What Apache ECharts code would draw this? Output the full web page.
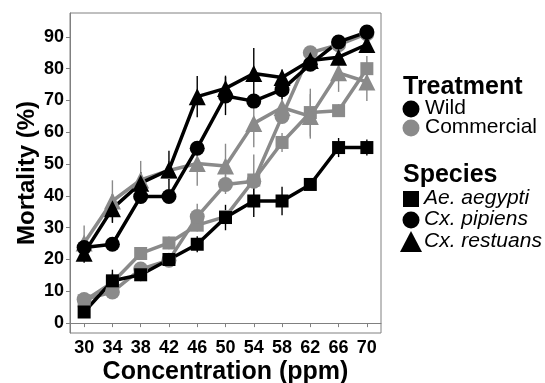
<!DOCTYPE html>
<html>
<head>
<meta charset="utf-8">
<script src="https://cdn.jsdelivr.net/npm/echarts@6/dist/echarts.min.js"></script>
<style>
  html, body { margin: 0; padding: 0; background: #fff; }
  #chart { width: 545px; height: 383px; }
</style>
</head>
<body>
<div id="chart"></div>
<script>
// concentrations (ppm)
const concentrations = ['30', '34', '38', '42', '46', '50', '54', '58', '62', '66', '70'];
const yTicks = [0, 10, 20, 30, 40, 50, 60, 70, 80, 90];

// mortality (%) - wild strains
const wildAegypti = [3.5, 13.3, 15.2, 20.0, 24.8, 33.2, 38.4, 38.4, 43.6, 55.2, 55.2];
const wildPipiens = [23.8, 24.8, 39.8, 39.8, 55.0, 71.4, 69.8, 73.4, 81.4, 88.4, 91.5];
const wildRestuans = [22.0, 36.0, 44.0, 48.2, 71.2, 73.8, 78.5, 77.2, 82.6, 83.6, 87.6];
// mortality (%) - commercial strains
const comAegypti = [7.0, 12.8, 21.9, 25.2, 30.8, 33.5, 45.0, 56.8, 66.2, 66.8, 80.0];
const comPipiens = [7.4, 9.8, 17.0, 19.8, 33.5, 43.6, 44.6, 65.0, 85.0, 87.5, 91.0];
const comRestuans = [25.2, 38.4, 45.0, 48.0, 50.2, 49.4, 62.8, 67.8, 65.0, 78.7, 75.8];

// error (half bar length)
const wildAegyptiErr = [0.5, 3.5, 2, 1.5, 2.5, 4, 5, 4.5, 1, 3, 2.5];
const wildPipiensErr = [1, 2, 1.5, 1.5, 2, 6, 2, 3, 2, 1.5, 1];
const wildRestuansErr = [3, 4.5, 3.5, 6, 6.5, 4, 8, 2.5, 2, 2, 1.5];
const comAegyptiErr = [1, 3, 1.5, 2, 2, 2, 8, 3, 7.5, 2, 4];
const comPipiensErr = [1, 1.5, 1.5, 1.5, 4, 3, 2, 2, 2, 1.5, 1];
const comRestuansErr = [5.5, 6.5, 6, 3, 7, 7, 7.5, 5, 7, 6, 6];

const BLACK = '#000000';
const GREY = '#8a8a8a';
const FONT = 'Liberation Sans';

const groups = [
  { name: 'Commercial Ae. aegypti', data: comAegypti, err: comAegyptiErr, color: GREY, symbol: 'rect', size: 13 },
  { name: 'Commercial Cx. pipiens', data: comPipiens, err: comPipiensErr, color: GREY, symbol: 'circle', size: 15 },
  { name: 'Commercial Cx. restuans', data: comRestuans, err: comRestuansErr, color: GREY, symbol: 'triangle', size: 17 },
  { name: 'Wild Ae. aegypti', data: wildAegypti, err: wildAegyptiErr, color: BLACK, symbol: 'rect', size: 13 },
  { name: 'Wild Cx. pipiens', data: wildPipiens, err: wildPipiensErr, color: BLACK, symbol: 'circle', size: 15 },
  { name: 'Wild Cx. restuans', data: wildRestuans, err: wildRestuansErr, color: BLACK, symbol: 'triangle', size: 17 },
];

const errorSeries = groups.map((g) => ({
  name: g.name + ' err',
  type: 'custom',
  silent: true,
  z: 1,
  data: g.data.map((v, i) => [i, v - g.err[i], v + g.err[i]]),
  renderItem(params, api) {
    const lo = api.coord([api.value(0), api.value(1)]);
    const hi = api.coord([api.value(0), api.value(2)]);
    return {
      type: 'line',
      shape: { x1: lo[0], y1: lo[1], x2: hi[0], y2: hi[1] },
      style: { stroke: g.color, lineWidth: 1.4 },
    };
  },
}));

const lineSeries = groups.map((g) => ({
  name: g.name,
  type: 'line',
  z: 2,
  data: g.data,
  symbol: g.symbol,
  symbolSize: g.size,
  showAllSymbol: true,
  lineStyle: { color: g.color, width: 3.5 },
  itemStyle: { color: g.color },
}));

// legend (drawn as graphics, ggplot style)
const legend = [
  { type: 'text', left: 403, top: 75, style: { text: 'Treatment', font: 'bold 25px ' + FONT, fill: '#000' } },
  { type: 'circle', shape: { cx: 411, cy: 109, r: 8.5 }, style: { fill: BLACK } },
  { type: 'text', left: 425, top: 98, style: { text: 'Wild', font: '21px ' + FONT, fill: '#000' } },
  { type: 'circle', shape: { cx: 411, cy: 128, r: 8.5 }, style: { fill: GREY } },
  { type: 'text', left: 425, top: 117, style: { text: 'Commercial', font: '21px ' + FONT, fill: '#000' } },
  { type: 'text', left: 403, top: 163, style: { text: 'Species', font: 'bold 25px ' + FONT, fill: '#000' } },
  { type: 'rect', shape: { x: 403, y: 191, width: 16, height: 16 }, style: { fill: BLACK } },
  { type: 'text', left: 424, top: 188, style: { text: 'Ae. aegypti', font: 'italic 21px ' + FONT, fill: '#000' } },
  { type: 'circle', shape: { cx: 411, cy: 220, r: 8.5 }, style: { fill: BLACK } },
  { type: 'text', left: 424, top: 209, style: { text: 'Cx. pipiens', font: 'italic 21px ' + FONT, fill: '#000' } },
  { type: 'polygon', shape: { points: [[411, 231], [400, 252], [422, 252]] }, style: { fill: BLACK } },
  { type: 'text', left: 424, top: 231, style: { text: 'Cx. restuans', font: 'italic 21px ' + FONT, fill: '#000' } },
];

const chart = echarts.init(document.getElementById('chart'));
chart.setOption({
  animation: false,
  backgroundColor: '#fff',
  textStyle: { fontFamily: FONT },
  grid: {
    left: 70, right: 164, top: 13, bottom: 50,
    outerBoundsMode: 'none',
    containLabel: false,
    show: true, borderColor: '#808080', borderWidth: 1, backgroundColor: '#fff',
  },
  xAxis: {
    type: 'category',
    data: concentrations,
    boundaryGap: true,
    name: 'Concentration (ppm)',
    nameLocation: 'middle',
    nameMoveOverlap: false,
    nameGap: 27,
    nameTextStyle: { fontSize: 25, fontWeight: 'bold', color: '#000', fontFamily: FONT },
    axisLine: { show: true, lineStyle: { color: '#808080', width: 1 } },
    axisTick: { show: true, alignWithLabel: true, length: 4, lineStyle: { color: '#808080' } },
    axisLabel: { fontSize: 18, fontWeight: 'bold', color: '#000', margin: 6, interval: 0, fontFamily: FONT },
    splitLine: { show: false },
  },
  yAxis: {
    type: 'value',
    min: -3.1,
    max: 97.5,
    name: 'Mortality (%)',
    nameLocation: 'middle',
    nameMoveOverlap: false,
    nameGap: 31,
    nameTextStyle: { fontSize: 24, fontWeight: 'bold', color: '#000', fontFamily: FONT },
    axisLine: { show: true, lineStyle: { color: '#808080', width: 1 } },
    axisTick: { show: true, length: 4, lineStyle: { color: '#808080' }, customValues: yTicks },
    axisLabel: { fontSize: 18, fontWeight: 'bold', color: '#000', margin: 6, customValues: yTicks, fontFamily: FONT },
    splitLine: { show: false },
  },
  graphic: legend,
  series: [...errorSeries, ...lineSeries],
});
</script>
</body>
</html>
